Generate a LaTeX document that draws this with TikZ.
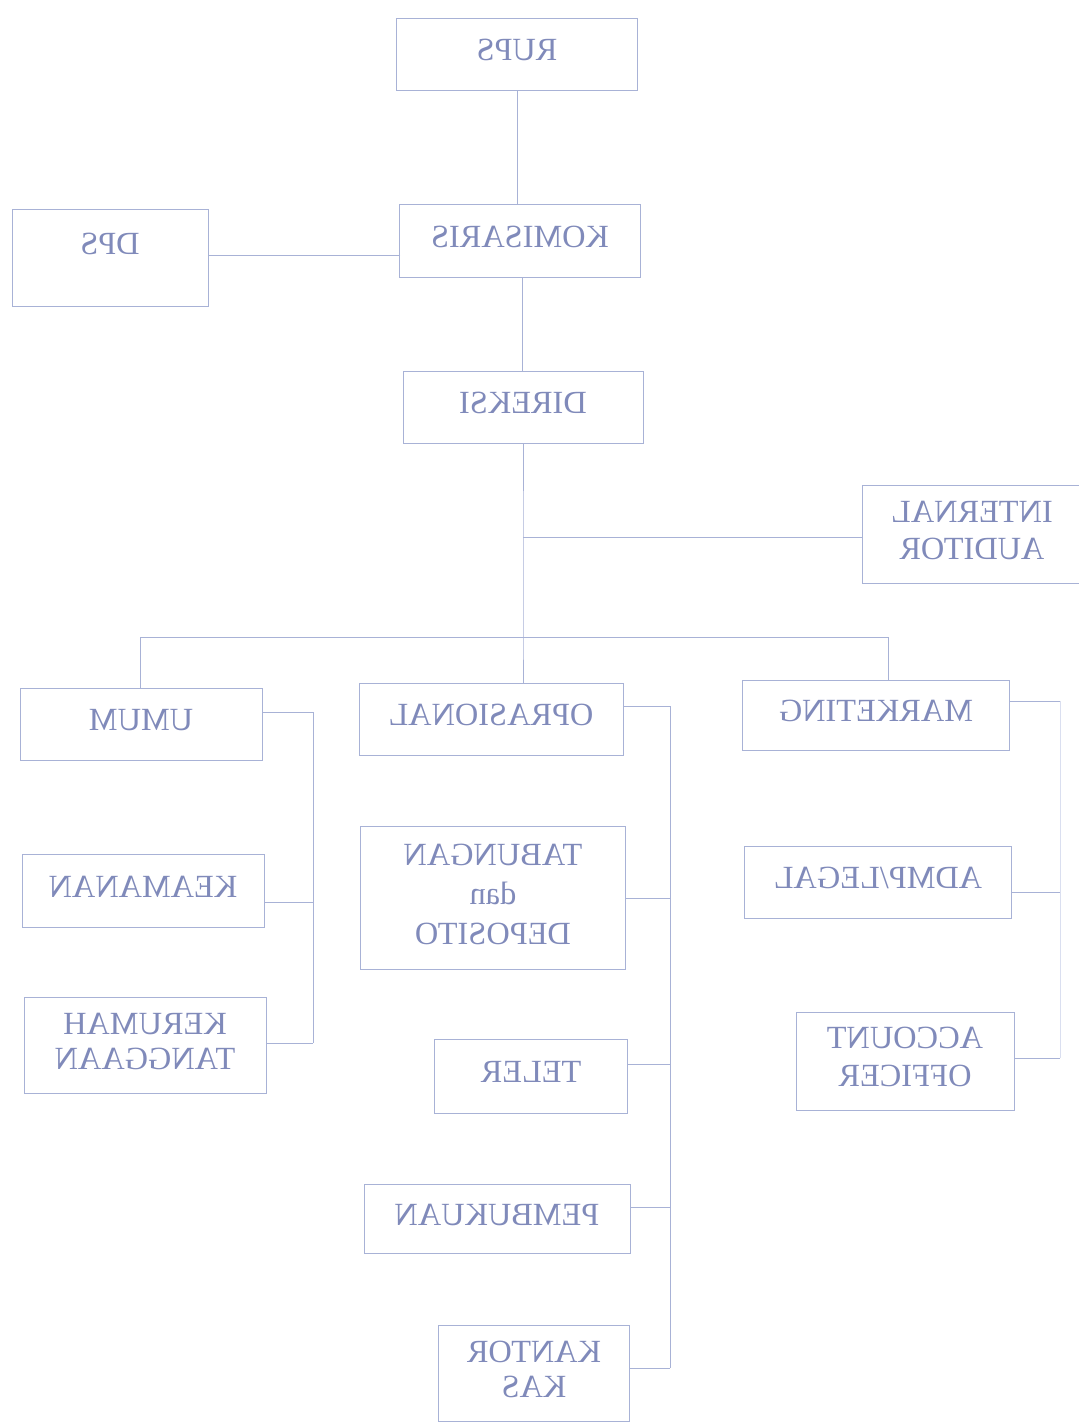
\documentclass[tikz,border=0pt]{standalone}
\usepackage{fontspec}
\setmainfont{Liberation Serif}
\definecolor{linec}{RGB}{168,178,214}
\definecolor{textc}{RGB}{128,138,186}
\definecolor{faintc}{RGB}{218,223,240}
\newcommand\mirtxt[1]{\raisebox{-2.5pt}{\reflectbox{\begin{tabular}{@{}c@{}}#1\end{tabular}}}}
\begin{document}
\begin{tikzpicture}[x=0.025cm,y=-0.025cm,
  orgbox/.style={draw=linec, line width=0.7pt, inner sep=0pt, text=textc,
    font=\fontsize{23}{24}\selectfont},
  conn/.style={draw=linec, line width=0.7pt},
  faintconn/.style={draw=faintc, line width=0.7pt}]
\useasboundingbox[fill=white] (0,0) rectangle (1079,1423);
% boxes
\node[orgbox, minimum width=241*0.025cm, minimum height=72*0.025cm] (rups) at (517,54) {\mirtxt{RUPS}};
\node[orgbox, minimum width=241*0.025cm, minimum height=73*0.025cm] (kom) at (520,241) {\mirtxt{KOMISARIS}};
\node[orgbox, minimum width=196*0.025cm, minimum height=97*0.025cm] (dps) at (110,258) {\raisebox{1.0em}{\mirtxt{DPS}}};
\node[orgbox, minimum width=240*0.025cm, minimum height=72*0.025cm] (dir) at (523,407) {\mirtxt{DIREKSI}};
\node[orgbox, minimum width=220*0.025cm, minimum height=98*0.025cm] (ia) at (972,534) {\mirtxt{INTERNAL\\[2pt]AUDITOR}};
\node[orgbox, minimum width=242*0.025cm, minimum height=72*0.025cm] (umum) at (141,724) {\mirtxt{UMUM}};
\node[orgbox, minimum width=264*0.025cm, minimum height=72*0.025cm] (ops) at (491,719) {\mirtxt{OPRASIONAL}};
\node[orgbox, minimum width=267*0.025cm, minimum height=70*0.025cm] (mkt) at (876,715) {\mirtxt{MARKETING}};
\node[orgbox, minimum width=242*0.025cm, minimum height=73*0.025cm] (keam) at (143,891) {\mirtxt{KEAMANAN}};
\node[orgbox, minimum width=242*0.025cm, minimum height=96*0.025cm] (kr) at (145,1045) {\mirtxt{KERUMAH\\[1pt]TANGGAAN}};
\node[orgbox, minimum width=265*0.025cm, minimum height=143*0.025cm] (tab) at (493,898) {\mirtxt{TABUNGAN\\[4pt]dan\\[4pt]DEPOSITO}};
\node[orgbox, minimum width=193*0.025cm, minimum height=74*0.025cm] (teler) at (531,1076) {\mirtxt{TELER}};
\node[orgbox, minimum width=266*0.025cm, minimum height=69*0.025cm] (pemb) at (497,1219) {\mirtxt{PEMBUKUAN}};
\node[orgbox, minimum width=191*0.025cm, minimum height=96*0.025cm] (kas) at (534,1373) {\mirtxt{KANTOR\\[1pt]KAS}};
\node[orgbox, minimum width=267*0.025cm, minimum height=72*0.025cm] (adm) at (878,882) {\mirtxt{ADMP/LEGAL}};
\node[orgbox, minimum width=218*0.025cm, minimum height=98*0.025cm] (ao) at (905,1061) {\mirtxt{ACCOUNT\\[3pt]OFFICER}};
% coordinates
\coordinate (t1) at (517,90);
\coordinate (t2) at (522,278);
\coordinate (j1) at (523,537);
\coordinate (j2) at (523,637);
\coordinate (bl) at (140,637);
\coordinate (br) at (888,637);
\coordinate (uc) at (313,712);
\coordinate (ub) at (313,1043);
\coordinate (oc) at (670,706);
\coordinate (ob) at (670,1368);
\coordinate (mc) at (1060,701);
\coordinate (mb) at (1060,1058);
\coordinate (dk) at (400,255);
% connectors
\draw[conn] (rups.south -| t1) -- (kom.north -| t1);
\draw[conn] (dk) -- (dk -| dps.east);
\draw[conn] (kom.south -| t2) -- (dir.north -| t2);
\draw[conn] (dir.south -| j1) -- (j1) -- (j2) -- (ops.north -| j2);
\draw[conn] (j1) -- (j1 -| ia.west);
\draw[conn] (bl) -- (br);
\draw[conn] (bl) -- (bl |- umum.north);
\draw[conn] (br) -- (br |- mkt.north);
% UMUM branch
\draw[conn] (umum.east |- uc) -- (uc) -- (ub);
\draw[conn] (keam.east |- 0,902) -- (313,902);
\draw[conn] (kr.east |- ub) -- (ub);
% OPRASIONAL branch
\draw[conn] (ops.east |- oc) -- (oc) -- (ob);
\draw[conn] (tab.east) -- (tab.east -| oc);
\draw[conn] (teler.east |- 0,1064) -- (670,1064);
\draw[conn] (pemb.east |- 0,1207) -- (670,1207);
\draw[conn] (kas.east |- ob) -- (ob);
% MARKETING branch
\draw[conn] (mkt.east |- mc) -- (mc);
\draw[faintconn] (mc) -- (mb);
\draw[conn] (adm.east |- 0,892) -- (1060,892);
\draw[conn] (ao.east |- mb) -- (mb);
\end{tikzpicture}
\end{document}
